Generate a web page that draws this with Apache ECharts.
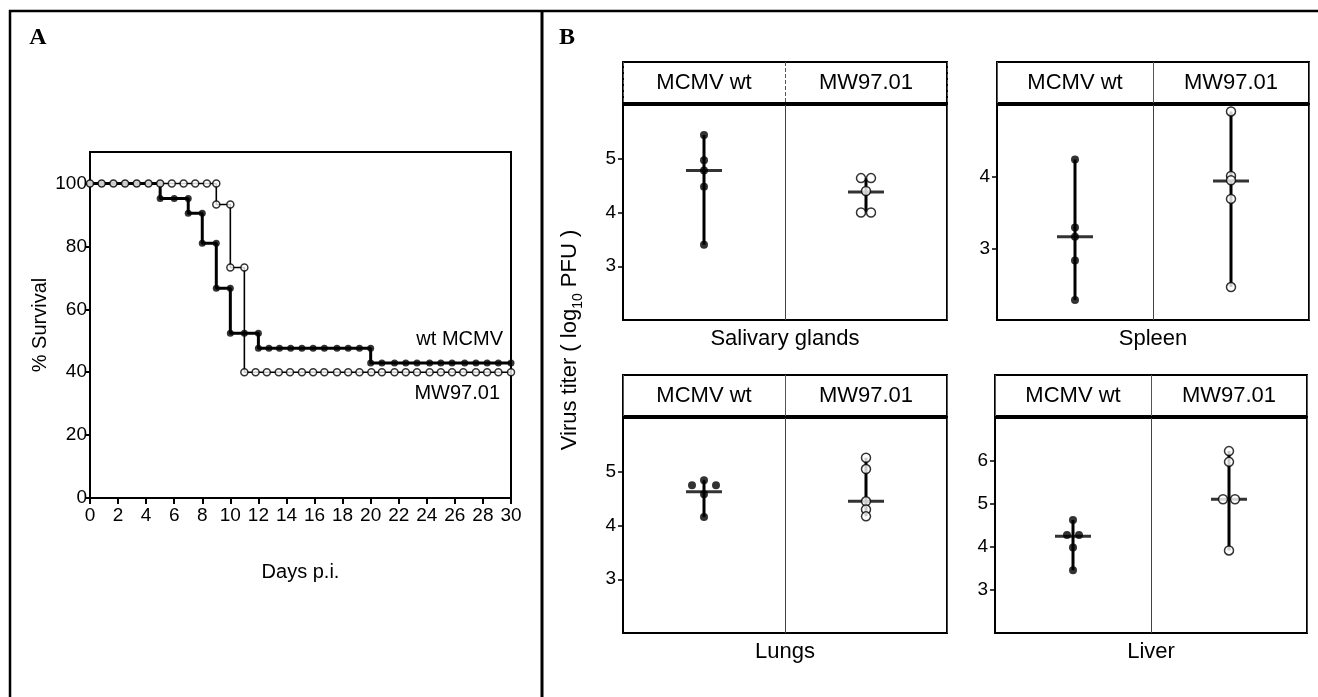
<!DOCTYPE html>
<html><head><meta charset="utf-8">
<script src="https://cdn.jsdelivr.net/npm/echarts@6/dist/echarts.min.js"></script>
<style>html,body{margin:0;padding:0;background:#fff}#c{width:1318px;height:697px}</style>
</head><body><div id="c"></div>
<script>
// ---------- Panel A : survival ----------
const wtSteps = [[0,100],[5,100],[5,95.2],[7,95.2],[7,90.5],[8,90.5],[8,81.0],[9,81.0],[9,66.7],[10,66.7],[10,52.4],[12,52.4],[12,47.6],[20,47.6],[20,42.9],[30,42.9]];
const wtMarkers = [[0,100],[0.83,100],[1.67,100],[2.5,100],[3.33,100],[4.17,100],[5,100],
  [5,95.2],[6,95.2],[7,95.2],[7,90.5],[8,90.5],[8,81.0],[9,81.0],[9,66.7],[10,66.7],
  [10,52.4],[11,52.4],[12,52.4],
  [12,47.6],[12.75,47.6],[13.5,47.6],[14.3,47.6],[15.1,47.6],[15.9,47.6],[16.7,47.6],[17.6,47.6],[18.4,47.6],[19.2,47.6],[20,47.6],
  [20,42.9],[20.8,42.9],[21.7,42.9],[22.5,42.9],[23.3,42.9],[24.2,42.9],[25,42.9],[25.8,42.9],[26.7,42.9],[27.5,42.9],[28.3,42.9],[29.1,42.9],[30,42.9]];
const mwSteps = [[0,100],[9,100],[9,93.3],[10,93.3],[10,73.3],[11,73.3],[11,40],[30,40]];
const mwMarkers = [[0,100],[0.83,100],[1.67,100],[2.5,100],[3.33,100],[4.17,100],[5,100],[5.83,100],[6.67,100],[7.5,100],[8.33,100],[9,100],
  [9,93.3],[10,93.3],[10,73.3],[11,73.3],
  [11,40],[11.8,40],[12.6,40],[13.45,40],[14.25,40],[15.1,40],[15.9,40],[16.7,40],[17.6,40],[18.4,40],[19.2,40],[20.05,40],
  [20.8,40],[21.7,40],[22.5,40],[23.3,40],[24.2,40],[25,40],[25.8,40],[26.6,40],[27.5,40],[28.3,40],[29.1,40],[30,40]];
const survivalNames = ['wt MCMV', 'MW97.01'];

// ---------- Panel B : virus titers ----------
const groups = ['MCMV wt', 'MW97.01'];
const organs = ['Salivary glands', 'Spleen', 'Lungs', 'Liver'];
const salivaryWt = [5.44, 4.97, 4.78, 4.48, 3.40];
const salivaryMw = [4.64, 4.64, 4.40, 4.00, 4.00];
const salivaryLine = [4.78, 4.38];
const spleenWt = [4.24, 3.29, 3.16, 2.83, 2.28];
const spleenMw = [4.91, 4.01, 3.95, 3.69, 2.46];
const spleenLine = [3.16, 3.94];
const lungsWt = [4.84, 4.75, 4.75, 4.58, 4.16];
const lungsMw = [5.26, 5.05, 4.45, 4.30, 4.17];
const lungsLine = [4.63, 4.45];
const liverWt = [4.63, 4.28, 4.28, 3.99, 3.46];
const liverMw = [6.23, 5.98, 5.11, 5.11, 3.92];
const liverLine = [4.25, 5.11];
const yRanges = [[2,6],[2,5],[2,6],[2,7]];

// ---------- layout / style ----------
const FONT = 'Liberation Sans, Arial, sans-serif';
const panels = [
  {wt: salivaryWt, mw: salivaryMw, line: salivaryLine, box:{left:623, top:62, width:324}, jw:[0,0,0,0,0], jm:[-5,5,0,-5,5], dash:'dashed'},
  {wt: spleenWt, mw: spleenMw, line: spleenLine, box:{left:997, top:62, width:312}, jw:[0,0,0,0,0], jm:[0,0,0,0,0], dash:'solid'},
  {wt: lungsWt, mw: lungsMw, line: lungsLine, box:{left:623, top:375, width:324}, jw:[0,-12,12,0,0], jm:[0,0,0,0,0], dash:'solid'},
  {wt: liverWt, mw: liverMw, line: liverLine, box:{left:995, top:375, width:312}, jw:[0,-6,6,0,0], jm:[0,0,-6,6,0], dash:'solid'}
];
const HEADER_H = 41, PLOT_H = 215;

const grids = [{left:90, top:152, width:421, height:346, show:true, borderColor:'#000', borderWidth:2}];
const xAxes = [{
  gridIndex:0, type:'value', min:0, max:30, interval:2,
  axisLine:{show:true, lineStyle:{color:'#000', width:2}},
  axisTick:{show:true, length:6, lineStyle:{color:'#000', width:2}},
  axisLabel:{color:'#000', fontSize:19, fontFamily:FONT, margin:8},
  splitLine:{show:false},
  name:'Days p.i.', nameLocation:'middle', nameGap:64,
  nameTextStyle:{color:'#000', fontSize:20, fontFamily:FONT}
}];
const yAxes = [{
  gridIndex:0, type:'value', min:0, max:110, interval:20,
  axisLine:{show:true, lineStyle:{color:'#000', width:2}},
  axisTick:{show:true, length:4, lineStyle:{color:'#000', width:2}},
  axisLabel:{color:'#000', fontSize:19, fontFamily:FONT, margin:3, showMaxLabel:false},
  splitLine:{show:false},
  name:'% Survival', nameLocation:'middle', nameGap:40,
  nameTextStyle:{color:'#000', fontSize:20, fontFamily:FONT}
}];

const labelStyle = {color:'#000', fontSize:20, fontFamily:FONT, textBorderWidth:0, opacity:1};
const series = [
  {type:'line', xAxisIndex:0, yAxisIndex:0, data:wtSteps, symbol:'none', lineStyle:{color:'#000', width:3}, silent:true, z:2},
  {type:'scatter', xAxisIndex:0, yAxisIndex:0, symbol:'circle', symbolSize:7, itemStyle:{color:'#000'}, silent:true, z:3,
    data: wtMarkers.map((p,i)=> i===wtMarkers.length-1 ? {value:p, label:Object.assign({show:true, formatter:survivalNames[0], position:'top', align:'right', offset:[-8,-5]}, labelStyle)} : p)},
  {type:'line', xAxisIndex:0, yAxisIndex:0, data:mwSteps, symbol:'none', lineStyle:{color:'#000', width:1.6}, silent:true, z:4},
  {type:'scatter', xAxisIndex:0, yAxisIndex:0, symbol:'circle', symbolSize:7, itemStyle:{color:'#fff', borderColor:'#000', borderWidth:1.5}, silent:true, z:5,
    data: mwMarkers.map((p,i)=> i===mwMarkers.length-1 ? {value:p, label:Object.assign({show:true, formatter:survivalNames[1], position:'bottom', align:'right', offset:[-11,2]}, labelStyle)} : p)}
];

panels.forEach((p, k) => {
  const h = 1 + 2*k, g = 2 + 2*k;
  grids.push({left:p.box.left, top:p.box.top, width:p.box.width, height:HEADER_H, show:true, borderColor:'#000', borderWidth:2});
  grids.push({left:p.box.left, top:p.box.top + HEADER_H + 2, width:p.box.width, height:PLOT_H, show:true, borderColor:'#000', borderWidth:2});
  xAxes.push({gridIndex:h, type:'category', data:groups, position:'bottom',
    axisLine:{show:false}, axisTick:{show:false},
    splitLine:{show:true, lineStyle:{color:'#555', width:1, type:p.dash}},
    axisLabel:{inside:true, margin:20, verticalAlign:'middle', color:'#000', fontSize:22, fontFamily:FONT}});
  yAxes.push({gridIndex:h, type:'value', min:0, max:1, show:false});
  xAxes.push({gridIndex:g, type:'category', data:groups, position:'bottom',
    axisLine:{show:false}, axisTick:{show:false}, axisLabel:{show:false},
    splitLine:{show:true, lineStyle:{color:'#444', width:1}},
    name:organs[k], nameLocation:'middle', nameGap:8,
    nameTextStyle:{color:'#000', fontSize:22, fontFamily:FONT}});
  yAxes.push({gridIndex:g, type:'value', min:yRanges[k][0], max:yRanges[k][1], interval:1,
    axisLine:{show:true, lineStyle:{color:'#000', width:2}},
    axisTick:{show:true, length:5, lineStyle:{color:'#000', width:1.5}},
    axisLabel:{color:'#000', fontSize:19, fontFamily:FONT, margin:7, showMinLabel:false, showMaxLabel:false},
    splitLine:{show:false}});
  [p.wt, p.mw].forEach((vals, c) => {
    series.push({type:'line', xAxisIndex:g, yAxisIndex:g, symbol:'none', silent:true, z:2,
      lineStyle:{color:'#000', width:3},
      data:[[c, Math.min(...vals)], [c, Math.max(...vals)]]});
  });
  series.push({type:'scatter', xAxisIndex:g, yAxisIndex:g, symbol:'rect', symbolSize:[36,3], silent:true, z:3,
    itemStyle:{color:'#000'}, data:p.line.map((v,c)=>[c, v])});
  series.push({type:'scatter', xAxisIndex:g, yAxisIndex:g, symbol:'circle', symbolSize:8, silent:true, z:4,
    itemStyle:{color:'#000'}, data:p.wt.map((v,i)=>({value:[0, v], symbolOffset:[p.jw[i],0]}))});
  series.push({type:'scatter', xAxisIndex:g, yAxisIndex:g, symbol:'circle', symbolSize:9, silent:true, z:5,
    itemStyle:{color:'#fff', borderColor:'#000', borderWidth:1.5}, data:p.mw.map((v,i)=>({value:[1, v], symbolOffset:[p.jm[i],0]}))});
});

const chart = echarts.init(document.getElementById('c'));
chart.setOption({
  animation:false,
  backgroundColor:'#fff',
  grid:grids, xAxis:xAxes, yAxis:yAxes, series:series,
  graphic:[
    {type:'rect', shape:{x:10, y:11, width:1400, height:800}, style:{fill:'none', stroke:'#000', lineWidth:2.5}, silent:true},
    {type:'line', shape:{x1:542, y1:11, x2:542, y2:697}, style:{stroke:'#000', lineWidth:3}, silent:true},
    {type:'text', x:38, y:38, style:{text:'A', font:'bold 24px "Liberation Serif", "Times New Roman", serif', fill:'#000', align:'center', verticalAlign:'middle'}, silent:true},
    {type:'text', x:567, y:38, style:{text:'B', font:'bold 24px "Liberation Serif", "Times New Roman", serif', fill:'#000', align:'center', verticalAlign:'middle'}, silent:true},
    {type:'text', x:570, y:340, rotation:Math.PI/2, silent:true,
      style:{text:'Virus titer ( log{sub|10} PFU )', fill:'#000', font:'22px ' + FONT, align:'center', verticalAlign:'middle',
        lineHeight:22,
        rich:{sub:{fontSize:14, fontFamily:FONT, verticalAlign:'bottom', lineHeight:30, fill:'#000'}}}}
  ]
});
</script></body></html>
